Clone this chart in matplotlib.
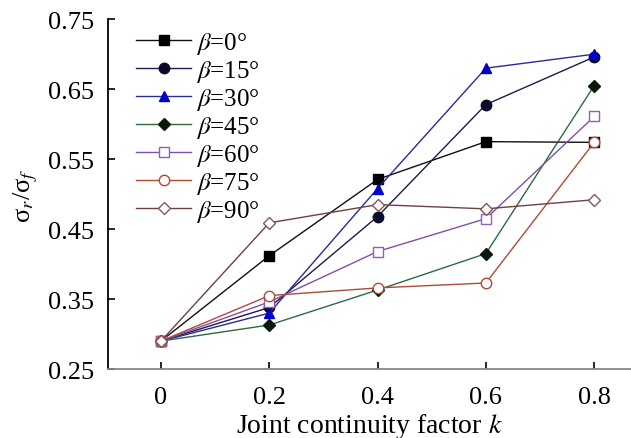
import matplotlib
matplotlib.use('Agg')
import matplotlib.pyplot as plt

plt.rcParams['font.family'] = ['Liberation Serif', 'DejaVu Serif']
plt.rcParams['mathtext.fontset'] = 'stix'

k = [0, 0.2, 0.4, 0.6, 0.8]
b0 = [0.29, 0.412, 0.521, 0.575, 0.574]
b15 = [0.29, 0.338, 0.468, 0.628, 0.696]
b30 = [0.29, 0.330, 0.508, 0.680, 0.700]
b45 = [0.29, 0.313, 0.363, 0.415, 0.655]
b60 = [0.29, 0.346, 0.418, 0.465, 0.611]
b75 = [0.29, 0.355, 0.366, 0.373, 0.574]
b90 = [0.29, 0.459, 0.485, 0.479, 0.492]
angles = [0, 15, 30, 45, 60, 75, 90]
yticks = [0.25, 0.35, 0.45, 0.55, 0.65, 0.75]
xticks = [0, 0.2, 0.4, 0.6, 0.8]

# line colour, marker, marker face, marker edge
styles = [
    ('#111111', 's', '#000000', '#000000'),
    ('#1c1c4a', 'o', '#0a0a2a', '#0a0a2a'),
    ('#2a2a9a', '^', '#0000cc', '#0000cc'),
    ('#2f6a40', 'D', '#0a1a0a', '#0a1a0a'),
    ('#8050a8', 's', 'white', '#9060b8'),
    ('#b04a38', 'o', 'white', '#b04a38'),
    ('#6e4040', 'D', 'white', '#8a5555'),
]

fig = plt.figure(figsize=(6.31, 4.39), dpi=100)
ax = fig.add_axes([0.171, 0.157, 0.829, 0.797])

for ang, ys, (lc, mk, mf, me) in zip(angles, [b0, b15, b30, b45, b60, b75, b90], styles):
    ms = 7.5 if mk != 'D' else 6.5
    ax.plot(k, ys, color=lc, lw=1.0, marker=mk, ms=ms, mfc=mf, mec=me, mew=1.0,
            label=r'$\beta$=%d°' % ang)

ax.set_xlim(-0.098, 0.868)
ax.set_ylim(0.25, 0.75)
ax.set_xticks(xticks)
ax.set_xticklabels(['0', '0.2', '0.4', '0.6', '0.8'])
ax.set_yticks(yticks)
ax.set_yticklabels(['%.2f' % v for v in yticks])
ax.tick_params(direction='in', length=5, width=1.2, labelsize=19)
ax.tick_params(axis='y', pad=10)
ax.tick_params(axis='x', pad=12)
ax.spines['top'].set_visible(False)
ax.spines['right'].set_visible(False)
ax.spines['left'].set_linewidth(1.3)
ax.spines['bottom'].set_color('#888888')
ax.spines['bottom'].set_linewidth(1.3)

ax.set_xlabel(r'Joint continuity factor $k$', fontsize=20, labelpad=2)
ax.set_ylabel(r'σ$_r$/σ$_f$', fontsize=19, labelpad=6)

ax.legend(loc='upper left', bbox_to_anchor=(0.035, 0.997), frameon=False,
          fontsize=18, handlelength=2.2, handletextpad=0.2, labelspacing=0.08,
          borderaxespad=0.0)

fig.savefig('out.png', dpi=100)
